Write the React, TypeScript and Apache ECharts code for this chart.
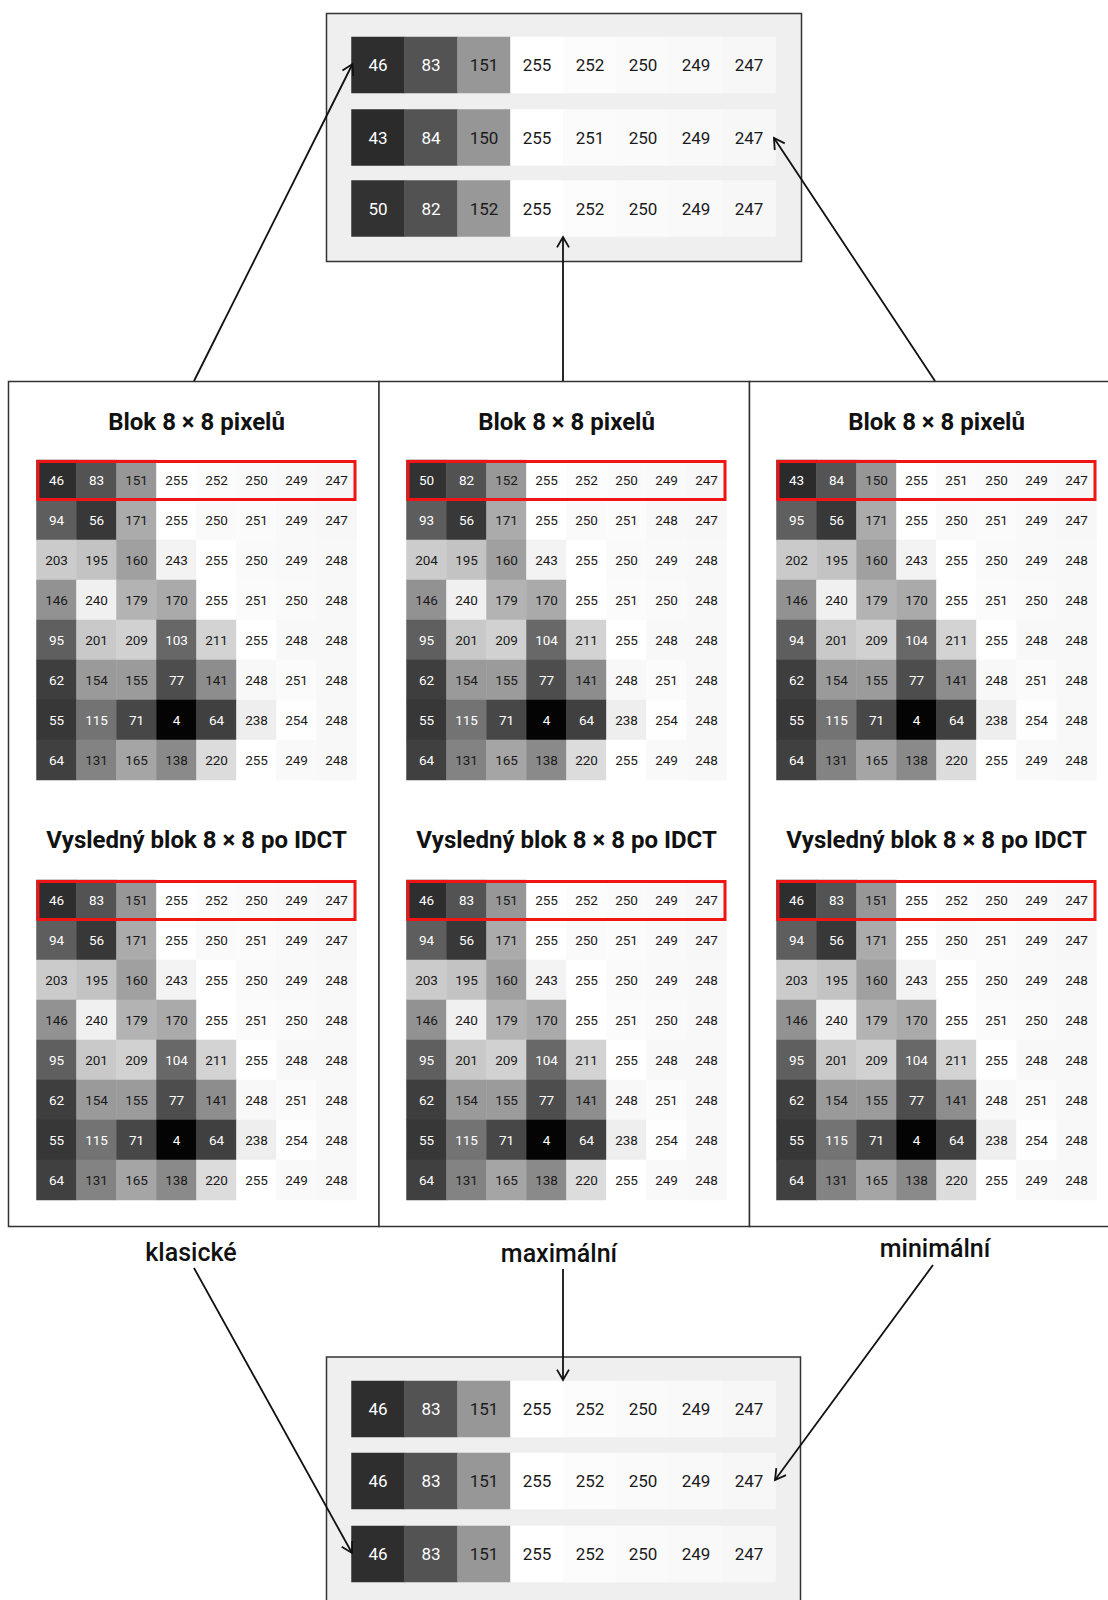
import React, { useEffect, useRef } from "react";
import * as echarts from "echarts";

// ---------- DATA ----------
const COLS = ["0", "1", "2", "3", "4", "5", "6", "7"];
const ROWS8 = ["0", "1", "2", "3", "4", "5", "6", "7"];

const blockKlasicke = [
  [46, 83, 151, 255, 252, 250, 249, 247],
  [94, 56, 171, 255, 250, 251, 249, 247],
  [203, 195, 160, 243, 255, 250, 249, 248],
  [146, 240, 179, 170, 255, 251, 250, 248],
  [95, 201, 209, 103, 211, 255, 248, 248],
  [62, 154, 155, 77, 141, 248, 251, 248],
  [55, 115, 71, 4, 64, 238, 254, 248],
  [64, 131, 165, 138, 220, 255, 249, 248],
];
const blockMaximalni = [
  [50, 82, 152, 255, 252, 250, 249, 247],
  [93, 56, 171, 255, 250, 251, 248, 247],
  [204, 195, 160, 243, 255, 250, 249, 248],
  [146, 240, 179, 170, 255, 251, 250, 248],
  [95, 201, 209, 104, 211, 255, 248, 248],
  [62, 154, 155, 77, 141, 248, 251, 248],
  [55, 115, 71, 4, 64, 238, 254, 248],
  [64, 131, 165, 138, 220, 255, 249, 248],
];
const blockMinimalni = [
  [43, 84, 150, 255, 251, 250, 249, 247],
  [95, 56, 171, 255, 250, 251, 249, 247],
  [202, 195, 160, 243, 255, 250, 249, 248],
  [146, 240, 179, 170, 255, 251, 250, 248],
  [94, 201, 209, 104, 211, 255, 248, 248],
  [62, 154, 155, 77, 141, 248, 251, 248],
  [55, 115, 71, 4, 64, 238, 254, 248],
  [64, 131, 165, 138, 220, 255, 249, 248],
];
const idctKlasicke = [
  [46, 83, 151, 255, 252, 250, 249, 247],
  [94, 56, 171, 255, 250, 251, 249, 247],
  [203, 195, 160, 243, 255, 250, 249, 248],
  [146, 240, 179, 170, 255, 251, 250, 248],
  [95, 201, 209, 104, 211, 255, 248, 248],
  [62, 154, 155, 77, 141, 248, 251, 248],
  [55, 115, 71, 4, 64, 238, 254, 248],
  [64, 131, 165, 138, 220, 255, 249, 248],
];
const idctMaximalni = [
  [46, 83, 151, 255, 252, 250, 249, 247],
  [94, 56, 171, 255, 250, 251, 249, 247],
  [203, 195, 160, 243, 255, 250, 249, 248],
  [146, 240, 179, 170, 255, 251, 250, 248],
  [95, 201, 209, 104, 211, 255, 248, 248],
  [62, 154, 155, 77, 141, 248, 251, 248],
  [55, 115, 71, 4, 64, 238, 254, 248],
  [64, 131, 165, 138, 220, 255, 249, 248],
];
const idctMinimalni = [
  [46, 83, 151, 255, 252, 250, 249, 247],
  [94, 56, 171, 255, 250, 251, 249, 247],
  [203, 195, 160, 243, 255, 250, 249, 248],
  [146, 240, 179, 170, 255, 251, 250, 248],
  [95, 201, 209, 104, 211, 255, 248, 248],
  [62, 154, 155, 77, 141, 248, 251, 248],
  [55, 115, 71, 4, 64, 238, 254, 248],
  [64, 131, 165, 138, 220, 255, 249, 248],
];
// first rows collected in the top box (klasické, minimální, maximální)
const topRows = [
  [46, 83, 151, 255, 252, 250, 249, 247],
  [43, 84, 150, 255, 251, 250, 249, 247],
  [50, 82, 152, 255, 252, 250, 249, 247],
];
// first rows after IDCT collected in the bottom box
const bottomRows = [
  [46, 83, 151, 255, 252, 250, 249, 247],
  [46, 83, 151, 255, 252, 250, 249, 247],
  [46, 83, 151, 255, 252, 250, 249, 247],
];
const blockTitle = "Blok 8 × 8 pixelů";
const idctTitle = "Vysledný blok 8 × 8 po IDCT";
const methodLabels = ["klasické", "maximální", "minimální"];

// ---------- LAYOUT ----------
const FONT = "Roboto";
const PANEL_X = [8.5, 379, 749.5];
const PANEL_W = 370.5;
const PANEL_TOP = 381.5;
const PANEL_BOTTOM = 1226.5;
const GRID_LEFT = [36.5, 406.5, 776.5];
const GRID_SIZE = 320;
const BLOCK_TOP = 460;
const IDCT_TOP = 880;
const BOX_LEFT = 351.5;
const BOX_ROW_W = 424;
const BOX_ROW_H = 56;
const TOP_ROWS_Y = [37, 109.5, 180.5];
const BOTTOM_ROWS_Y = [1381, 1453, 1526];
const LABEL_POS = [
  [191, 1252],
  [559, 1253],
  [935, 1248],
];

function cellData(matrix: number[][]) {
  const out: any[] = [];
  matrix.forEach((row, r) =>
    row.forEach((v, c) => {
      out.push({ value: [c, r, v], label: { color: v < 128 ? "#ffffff" : "#1a1a1a" } });
    })
  );
  return out;
}

function arrow(x1: number, y1: number, x2: number, y2: number) {
  const ang = Math.atan2(y2 - y1, x2 - x1);
  const L = 12;
  const a = Math.PI / 6;
  const p1 = [x2 - L * Math.cos(ang - a), y2 - L * Math.sin(ang - a)];
  const p2 = [x2 - L * Math.cos(ang + a), y2 - L * Math.sin(ang + a)];
  return [
    { type: "line", z: 100, shape: { x1, y1, x2, y2 }, style: { stroke: "#111", lineWidth: 1.8 } },
    {
      type: "polyline",
      z: 100,
      shape: { points: [p1, [x2, y2], p2] },
      style: { stroke: "#111", lineWidth: 1.8, fill: null },
    },
  ];
}

export default function App() {
  const ref = useRef<HTMLDivElement>(null);

  useEffect(() => {
    if (!ref.current) return;
    const chart = echarts.init(ref.current, undefined, { renderer: "svg" });

    const grids: any[] = [];
    const xAxes: any[] = [];
    const yAxes: any[] = [];
    const series: any[] = [];

    const addHeat = (
      left: number,
      top: number,
      width: number,
      height: number,
      matrix: number[][],
      fontSize: number
    ) => {
      const idx = grids.length;
      const rowCats = ROWS8.slice(0, matrix.length);
      grids.push({ left, top, width, height, containLabel: false });
      xAxes.push({ type: "category", data: COLS, gridIndex: idx, show: false });
      yAxes.push({ type: "category", data: rowCats, gridIndex: idx, inverse: true, show: false });
      series.push({
        type: "heatmap",
        xAxisIndex: idx,
        yAxisIndex: idx,
        data: cellData(matrix),
        label: { show: true, fontSize, fontFamily: FONT },
        emphasis: { disabled: true },
      });
    };

    const blocks = [blockKlasicke, blockMaximalni, blockMinimalni];
    const idcts = [idctKlasicke, idctMaximalni, idctMinimalni];
    for (let i = 0; i < 3; i++) {
      addHeat(GRID_LEFT[i], BLOCK_TOP, GRID_SIZE, GRID_SIZE, blocks[i], 13.5);
      addHeat(GRID_LEFT[i], IDCT_TOP, GRID_SIZE, GRID_SIZE, idcts[i], 13.5);
    }
    topRows.forEach((row, i) => addHeat(BOX_LEFT, TOP_ROWS_Y[i], BOX_ROW_W, BOX_ROW_H, [row], 17));
    bottomRows.forEach((row, i) =>
      addHeat(BOX_LEFT, BOTTOM_ROWS_Y[i], BOX_ROW_W, BOX_ROW_H, [row], 17)
    );

    const graphics: any[] = [];
    // boxes
    graphics.push({
      type: "rect",
      z: 0,
      shape: { x: 326.5, y: 13.5, width: 475, height: 248 },
      style: { fill: "#efefef", stroke: "#333", lineWidth: 1.5 },
    });
    graphics.push({
      type: "rect",
      z: 0,
      shape: { x: 326.5, y: 1357, width: 474, height: 270 },
      style: { fill: "#efefef", stroke: "#333", lineWidth: 1.5 },
    });
    // panels
    for (let i = 0; i < 3; i++) {
      graphics.push({
        type: "rect",
        z: 0,
        shape: { x: PANEL_X[i], y: PANEL_TOP, width: PANEL_W, height: PANEL_BOTTOM - PANEL_TOP },
        style: { fill: "#ffffff", stroke: "#333", lineWidth: 1.5 },
      });
      const cx = GRID_LEFT[i] + GRID_SIZE / 2;
      graphics.push({
        type: "text",
        z: 100,
        x: cx,
        y: 422,
        style: {
          text: blockTitle,
          fontSize: 24,
          fontWeight: "bold",
          fontFamily: FONT,
          fill: "#111",
          align: "center",
          verticalAlign: "middle",
        },
      });
      graphics.push({
        type: "text",
        z: 100,
        x: cx,
        y: 840,
        style: {
          text: idctTitle,
          fontSize: 24,
          fontWeight: "bold",
          fontFamily: FONT,
          fill: "#111",
          align: "center",
          verticalAlign: "middle",
        },
      });
      // red highlight of first row
      [BLOCK_TOP, IDCT_TOP].forEach((top) => {
        graphics.push({
          type: "rect",
          z: 100,
          shape: { x: GRID_LEFT[i] + 1.5, y: top + 1.5, width: GRID_SIZE - 3, height: 38 },
          style: { fill: null, stroke: "#f01414", lineWidth: 3 },
        });
      });
      graphics.push({
        type: "text",
        z: 100,
        x: LABEL_POS[i][0],
        y: LABEL_POS[i][1],
        style: {
          text: methodLabels[i],
          fontSize: 25,
          fontWeight: 500,
          fontFamily: FONT,
          fill: "#111",
          align: "center",
          verticalAlign: "middle",
        },
      });
    }
    // arrows
    graphics.push(...arrow(194, 381, 352.5, 64));
    graphics.push(...arrow(563, 381, 563, 237));
    graphics.push(...arrow(935, 381, 774, 138));
    graphics.push(...arrow(563, 1269, 563, 1380));
    graphics.push(...arrow(194, 1268, 352, 1553));
    graphics.push(...arrow(933, 1265, 775, 1480));

    chart.setOption({
      animation: false,
      backgroundColor: "#ffffff",
      visualMap: {
        show: false,
        type: "continuous",
        min: 0,
        max: 255,
        dimension: 2,
        inRange: { color: ["#000000", "#ffffff"] },
      },
      grid: grids,
      xAxis: xAxes,
      yAxis: yAxes,
      series,
      graphic: { elements: graphics },
    });

    return () => chart.dispose();
  }, []);

  return (
    <div
      ref={ref}
      style={{ position: "absolute", left: 0, top: 0, width: 1108, height: 1600, background: "#fff" }}
    />
  );
}
